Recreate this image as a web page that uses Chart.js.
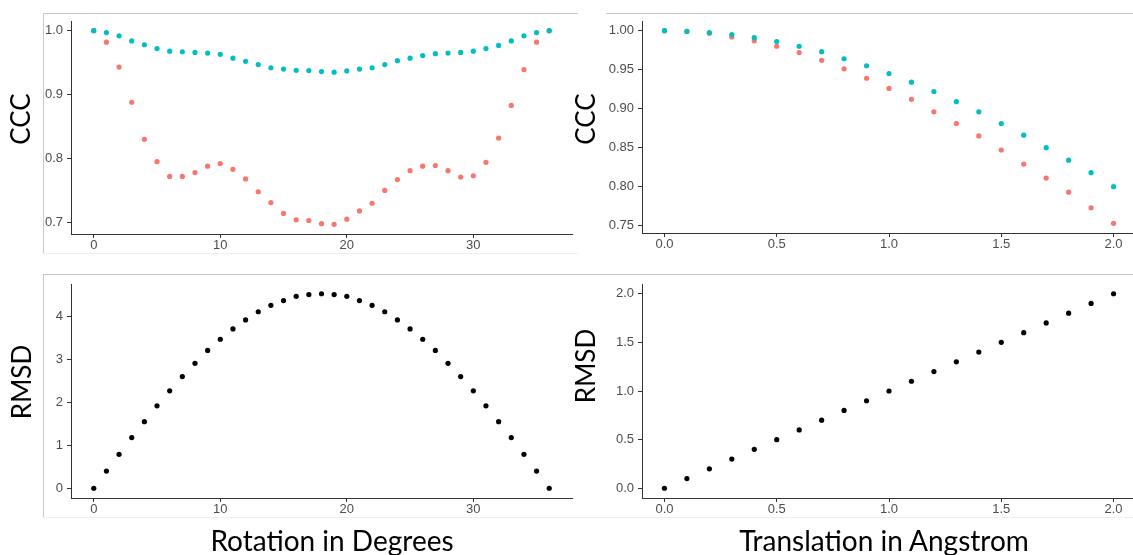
<!DOCTYPE html>
<html>
<head>
<meta charset="utf-8">
<script src="https://cdn.jsdelivr.net/npm/chart.js@4.4.1/dist/chart.umd.min.js"></script>
<style>
  html, body { margin: 0; padding: 0; background: #fff; overflow: hidden; }
  body { width: 1133px; height: 555px; position: relative; }
  canvas { position: absolute; }
  .line { position: absolute; }
  .lab { position: absolute; font-family: Lato, "Open Sans", sans-serif; color: #000; white-space: nowrap; line-height: 1; }
  .ylab { transform: translate(-50%, -50%) rotate(-90deg); font-size: 26px; }
  .xlab { transform: translate(-50%, -50%); font-size: 28px; }
</style>
</head>
<body>
<!-- panel frames -->
<div class="line" style="left:43px;top:13px;width:535px;height:1px;background:#c8c8c8"></div>
<div class="line" style="left:43px;top:13px;width:1px;height:240px;background:#c8c8c8"></div>
<div class="line" style="left:43px;top:253px;width:535px;height:1px;background:#eeeeee"></div>
<div class="line" style="left:606px;top:13px;width:527px;height:1px;background:#c8c8c8"></div>
<div class="line" style="left:43px;top:274px;width:1090px;height:1px;background:#c8c8c8"></div>
<div class="line" style="left:43px;top:274px;width:1px;height:243px;background:#c8c8c8"></div>
<div class="line" style="left:43px;top:517px;width:1090px;height:1px;background:#eeeeee"></div>

<canvas id="rotCcc" width="580" height="262" style="left:0;top:0"></canvas>
<canvas id="transCcc" width="560" height="262" style="left:580px;top:0"></canvas>
<canvas id="rotRmsd" width="580" height="262" style="left:0;top:262px"></canvas>
<canvas id="transRmsd" width="560" height="262" style="left:580px;top:262px"></canvas>

<span class="lab ylab" style="left:20px;top:119px">CCC</span>
<span class="lab ylab" style="left:585px;top:119px">CCC</span>
<span class="lab ylab" style="left:21px;top:382px">RMSD</span>
<span class="lab ylab" style="left:585px;top:366px">RMSD</span>
<span class="lab xlab" style="left:332px;top:540px">Rotation in Degrees</span>
<span class="lab xlab" style="left:884px;top:540px">Translation in Angstrom</span>

<script>
// rotation sweep (degrees)
const rotationDeg = [0, 1, 2, 3, 4, 5, 6, 7, 8, 9, 10, 11, 12, 13, 14, 15, 16, 17, 18,
  19, 20, 21, 22, 23, 24, 25, 26, 27, 28, 29, 30, 31, 32, 33, 34, 35, 36];
const rotCccTeal = [1.000, 0.997, 0.992, 0.984, 0.978, 0.972, 0.968, 0.967, 0.966, 0.965,
  0.963, 0.957, 0.952, 0.947, 0.942, 0.940, 0.938, 0.9375, 0.936, 0.935, 0.937, 0.940,
  0.942, 0.947, 0.953, 0.957, 0.961, 0.964, 0.965, 0.966, 0.968, 0.972, 0.977, 0.984,
  0.992, 0.997, 1.000];
const rotCccRed = [1.000, 0.982, 0.943, 0.888, 0.830, 0.795, 0.772, 0.772, 0.778, 0.788,
  0.792, 0.783, 0.768, 0.748, 0.731, 0.714, 0.704, 0.703, 0.698, 0.697, 0.705, 0.718,
  0.730, 0.750, 0.767, 0.781, 0.788, 0.789, 0.781, 0.771, 0.773, 0.794, 0.832, 0.883,
  0.939, 0.982, 1.000];
const rotRmsd = [0, 0.40, 0.79, 1.18, 1.55, 1.92, 2.27, 2.60, 2.91, 3.21, 3.47, 3.71, 3.92,
  4.11, 4.26, 4.37, 4.47, 4.51, 4.53, 4.51, 4.47, 4.37, 4.26, 4.11, 3.92, 3.71, 3.47,
  3.21, 2.91, 2.60, 2.27, 1.92, 1.55, 1.18, 0.79, 0.40, 0];

// translation sweep (angstrom)
const translationA = [0, 0.1, 0.2, 0.3, 0.4, 0.5, 0.6, 0.7, 0.8, 0.9, 1.0,
  1.1, 1.2, 1.3, 1.4, 1.5, 1.6, 1.7, 1.8, 1.9, 2.0];
const transCccTeal = [1.000, 0.999, 0.9975, 0.995, 0.991, 0.986, 0.980, 0.973, 0.964, 0.955,
  0.945, 0.934, 0.922, 0.909, 0.896, 0.881, 0.866, 0.850, 0.834, 0.818, 0.800];
const transCccRed = [1.000, 0.999, 0.9966, 0.992, 0.987, 0.980, 0.972, 0.962, 0.951, 0.939,
  0.926, 0.912, 0.896, 0.881, 0.865, 0.847, 0.829, 0.811, 0.793, 0.773, 0.753];
const transRmsd = [0, 0.1, 0.2, 0.3, 0.4, 0.5, 0.6, 0.7, 0.8, 0.9, 1.0,
  1.1, 1.2, 1.3, 1.4, 1.5, 1.6, 1.7, 1.8, 1.9, 2.0];

// tick positions
const rotTicks = [0, 10, 20, 30];
const transTicks = [0, 0.5, 1.0, 1.5, 2.0];
const rotCccTicks = [0.7, 0.8, 0.9, 1.0];
const transCccTicks = [0.75, 0.80, 0.85, 0.90, 0.95, 1.00];
const rotRmsdTicks = [0, 1, 2, 3, 4];
const transRmsdTicks = [0, 0.5, 1.0, 1.5, 2.0];

const TEAL = '#00BFC4';
const RED = '#F8766D';
const AXIS = '#333333';

// ggplot-style 5% padding around the data range
function expand(arrs) {
  const all = [].concat(...arrs);
  const lo = Math.min(...all), hi = Math.max(...all);
  const pad = (hi - lo) * 0.05;
  return { min: lo - pad, max: hi + pad };
}

function axis(range, ticks, decimals, fit) {
  return {
    type: 'linear',
    min: range.min,
    max: range.max,
    afterBuildTicks: s => { s.ticks = ticks.map(v => ({ value: v })); },
    afterFit: fit,
    grid: { drawOnChartArea: false, drawTicks: true, tickLength: 4, color: AXIS, tickColor: AXIS },
    border: { display: true, color: AXIS, width: 1 },
    ticks: {
      color: '#4d4d4d',
      font: { family: '"Liberation Sans", Arial, sans-serif', size: 13 },
      autoSkip: false,
      maxRotation: 0,
      callback: v => Number(v).toFixed(decimals)
    }
  };
}

function scatter(id, xs, series, xTicks, yTicks, xDec, yDec, box) {
  const datasets = series.map(s => ({
    data: xs.map((x, i) => ({ x: x, y: s.values[i] })),
    backgroundColor: s.color,
    pointRadius: 2.6,
    pointBorderWidth: 0,
    pointHoverRadius: 2.6,
    showLine: false
  }));
  const xAxis = axis(expand([xs]), xTicks, xDec, s => { s.height = box.xh; });
  xAxis.ticks.padding = 0;
  const yAxis = axis(expand(series.map(s => s.values)), yTicks, yDec, s => { s.width = box.yw; });
  yAxis.ticks.padding = 4;
  return new Chart(document.getElementById(id), {
    type: 'scatter',
    data: { datasets },
    options: {
      responsive: false,
      animation: false,
      layout: { padding: { top: box.top, right: box.right, left: 0, bottom: 0 } },
      plugins: { legend: { display: false }, tooltip: { enabled: false } },
      scales: { x: xAxis, y: yAxis }
    }
  });
}

// teal drawn last so it sits on top where the series overlap
scatter('rotCcc', rotationDeg,
  [{ values: rotCccTeal, color: TEAL }, { values: rotCccRed, color: RED }],
  rotTicks, rotCccTicks, 0, 1, { top: 21, right: 8, yw: 71, xh: 28 });
scatter('transCcc', translationA,
  [{ values: transCccTeal, color: TEAL }, { values: transCccRed, color: RED }],
  transTicks, transCccTicks, 1, 2, { top: 21, right: 4, yw: 62, xh: 29 });
scatter('rotRmsd', rotationDeg,
  [{ values: rotRmsd, color: '#000000' }],
  rotTicks, rotRmsdTicks, 0, 0, { top: 22, right: 8, yw: 71, xh: 26 });
scatter('transRmsd', translationA,
  [{ values: transRmsd, color: '#000000' }],
  transTicks, transRmsdTicks, 1, 1, { top: 22, right: 4, yw: 62, xh: 26 });
</script>
</body>
</html>
